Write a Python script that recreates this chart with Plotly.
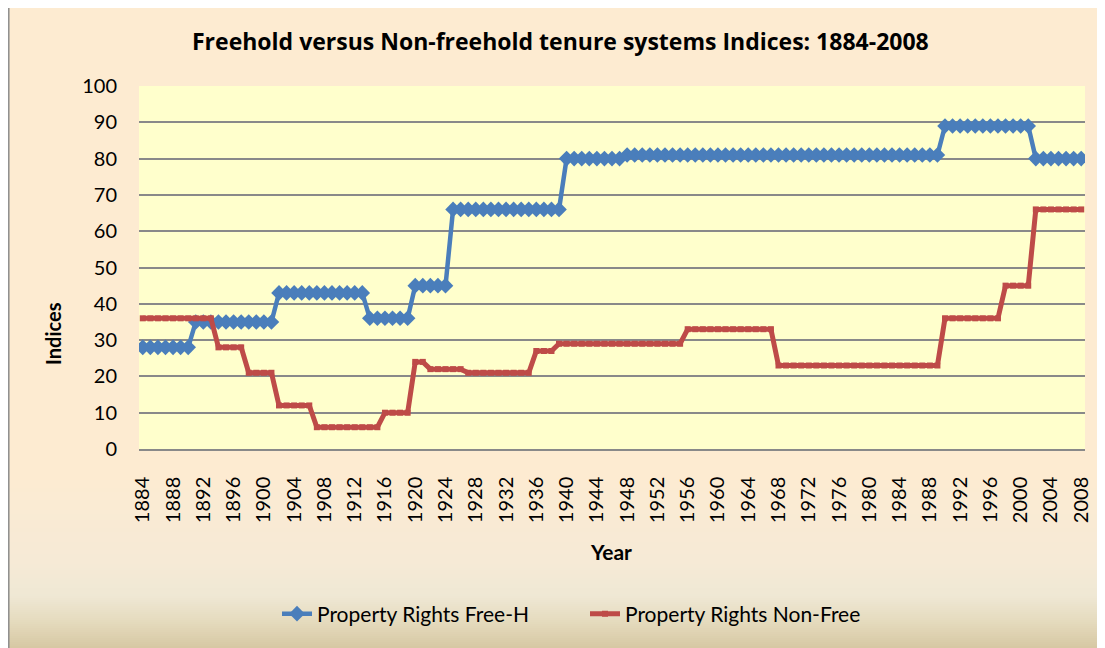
import plotly.graph_objects as go

# ---------------- data ----------------
years = list(range(1884, 2009))

free_h = [
    28, 28, 28, 28, 28, 28, 28, 35, 35, 35,   # 1884-1893
    35, 35, 35, 35, 35, 35, 35, 35, 43, 43,   # 1894-1903
    43, 43, 43, 43, 43, 43, 43, 43, 43, 43,   # 1904-1913
    36, 36, 36, 36, 36, 36, 45, 45, 45, 45,   # 1914-1923
    45, 66, 66, 66, 66, 66, 66, 66, 66, 66,   # 1924-1933
    66, 66, 66, 66, 66, 66, 80, 80, 80, 80,   # 1934-1943
    80, 80, 80, 80, 81, 81, 81, 81, 81, 81,   # 1944-1953
    81, 81, 81, 81, 81, 81, 81, 81, 81, 81,   # 1954-1963
    81, 81, 81, 81, 81, 81, 81, 81, 81, 81,   # 1964-1973
    81, 81, 81, 81, 81, 81, 81, 81, 81, 81,   # 1974-1983
    81, 81, 81, 81, 81, 81, 89, 89, 89, 89,   # 1984-1993
    89, 89, 89, 89, 89, 89, 89, 89, 80, 80,   # 1994-2003
    80, 80, 80, 80, 80,                       # 2004-2008
]

non_free = [
    36, 36, 36, 36, 36, 36, 36, 36, 36, 36,   # 1884-1893
    28, 28, 28, 28, 21, 21, 21, 21, 12, 12,   # 1894-1903
    12, 12, 12, 6, 6, 6, 6, 6, 6, 6,          # 1904-1913
    6, 6, 10, 10, 10, 10, 24, 24, 22, 22,     # 1914-1923
    22, 22, 22, 21, 21, 21, 21, 21, 21, 21,   # 1924-1933
    21, 21, 27, 27, 27, 29, 29, 29, 29, 29,   # 1934-1943
    29, 29, 29, 29, 29, 29, 29, 29, 29, 29,   # 1944-1953
    29, 29, 33, 33, 33, 33, 33, 33, 33, 33,   # 1954-1963
    33, 33, 33, 33, 23, 23, 23, 23, 23, 23,   # 1964-1973
    23, 23, 23, 23, 23, 23, 23, 23, 23, 23,   # 1974-1983
    23, 23, 23, 23, 23, 23, 36, 36, 36, 36,   # 1984-1993
    36, 36, 36, 36, 45, 45, 45, 45, 66, 66,   # 1994-2003
    66, 66, 66, 66, 66,                       # 2004-2008
]

x_ticks = [1884, 1888, 1892, 1896, 1900, 1904, 1908, 1912, 1916, 1920,
           1924, 1928, 1932, 1936, 1940, 1944, 1948, 1952, 1956, 1960,
           1964, 1968, 1972, 1976, 1980, 1984, 1988, 1992, 1996, 2000,
           2004, 2008]
y_ticks = [0, 10, 20, 30, 40, 50, 60, 70, 80, 90, 100]

title_text = "Freehold versus Non-freehold tenure systems Indices: 1884-2008"

# ---------------- geometry ----------------
# The page body has an 8px margin, so figure coords = reference coords - 8
OFF = 8
W, H = 1105 - OFF, 648 - OFF
PL, PR, PT, PB = 139 - OFF, 1085 - OFF, 86 - OFF, 449 - OFF
FONT = "Lato"


def px(xr):
    return (xr - OFF - PL) / (PR - PL)


def py(yr):
    return (PB - (yr - OFF)) / (PB - PT)


def hexmix(c1, c2, t):
    a = [int(c1[i:i + 2], 16) for i in (1, 3, 5)]
    b = [int(c2[i:i + 2], 16) for i in (1, 3, 5)]
    return "#%02x%02x%02x" % tuple(round(a[k] + (b[k] - a[k]) * t) for k in range(3))


# background gradient stops (reference pixel y, colour)
stops = [(5, "#FDEBD1"), (480, "#FCEBD2"), (560, "#F6EAD6"), (595, "#EFE8D4"),
         (620, "#E5DBBE"), (648, "#D6C7A2")]

shapes = []
shapes.append(dict(type="rect", xref="paper", yref="paper", layer="below",
                   x0=px(8.5), x1=px(1120), y0=py(0), y1=py(480),
                   fillcolor=stops[0][1], line=dict(width=0)))
yy = 480
while yy < 650:
    col = stops[-1][1]
    for j in range(len(stops) - 1):
        if stops[j][0] <= yy <= stops[j + 1][0]:
            t = (yy - stops[j][0]) / (stops[j + 1][0] - stops[j][0])
            col = hexmix(stops[j][1], stops[j + 1][1], t)
            break
    shapes.append(dict(type="rect", xref="paper", yref="paper", layer="below",
                       x0=px(8.5), x1=px(1120), y0=py(yy), y1=py(yy + 2.5),
                       fillcolor=col, line=dict(width=0)))
    yy += 2
# chart border (left edge visible)
shapes.append(dict(type="line", xref="paper", yref="paper", layer="below",
                   x0=px(8.8), x1=px(8.8), y0=py(0), y1=py(660),
                   line=dict(color="#8C8C8C", width=1.5)))
# plot area
shapes.append(dict(type="rect", xref="paper", yref="paper", layer="below",
                   x0=0, x1=1, y0=0, y1=1, fillcolor="#FFFFCC", line=dict(width=0)))

fig = go.Figure()
fig.add_trace(go.Scatter(
    x=years, y=free_h, mode="lines+markers", name="Property Rights Free-H",
    line=dict(color="#4A7EBB", width=4.5),
    marker=dict(symbol="diamond", size=12, color="#4A7EBB")))
fig.add_trace(go.Scatter(
    x=years, y=non_free, mode="lines+markers", name="Property Rights Non-Free",
    line=dict(color="#BE4B48", width=5),
    marker=dict(symbol="square", size=6, color="#BE4B48")))

annotations = [
    dict(text="<b>" + title_text + "</b>", xref="paper", yref="paper",
         x=px(560), y=py(41), xanchor="center", yanchor="middle", showarrow=False,
         font=dict(family="Open Sans", size=23, color="#000000")),
    dict(text="<b>Year</b>", xref="paper", yref="paper",
         x=px(611), y=py(551), xanchor="center", yanchor="middle", showarrow=False,
         font=dict(family=FONT, size=21, color="#000000")),
    dict(text="<b>Indices</b>", xref="paper", yref="paper", textangle=-90,
         x=px(53), y=py(334), xanchor="center", yanchor="middle", showarrow=False,
         font=dict(family=FONT, size=20, color="#000000")),
]

fig.update_layout(
    width=W, height=H,
    margin=dict(l=PL, r=W - PR, t=PT, b=H - PB),
    paper_bgcolor="#FFFFFF", plot_bgcolor="#FFFFCC",
    font=dict(family=FONT, size=20, color="#000000"),
    shapes=shapes, annotations=annotations,
    showlegend=True,
    legend=dict(orientation="h", x=px(277), xanchor="left", y=py(614), yanchor="middle",
                entrywidth=263, entrywidthmode="pixels",
                bgcolor="rgba(0,0,0,0)", font=dict(family=FONT, size=21, color="#000000")),
    xaxis=dict(range=[1883.5, 2008.5], tickmode="array", tickvals=x_ticks,
               ticktext=[str(v) for v in x_ticks], tickangle=-90, showgrid=False,
               zeroline=False, showline=True, linecolor="#898989", linewidth=1.5,
               ticks="", ticklabelstandoff=18, tickfont=dict(family=FONT, size=20)),
    yaxis=dict(range=[0, 100], tickmode="array", tickvals=y_ticks,
               showgrid=True, gridcolor="#898989", gridwidth=1.5, zeroline=False,
               showline=False, ticks="", ticklabelstandoff=21,
               tickfont=dict(family=FONT, size=20)),
)

fig.write_html("out.html")
